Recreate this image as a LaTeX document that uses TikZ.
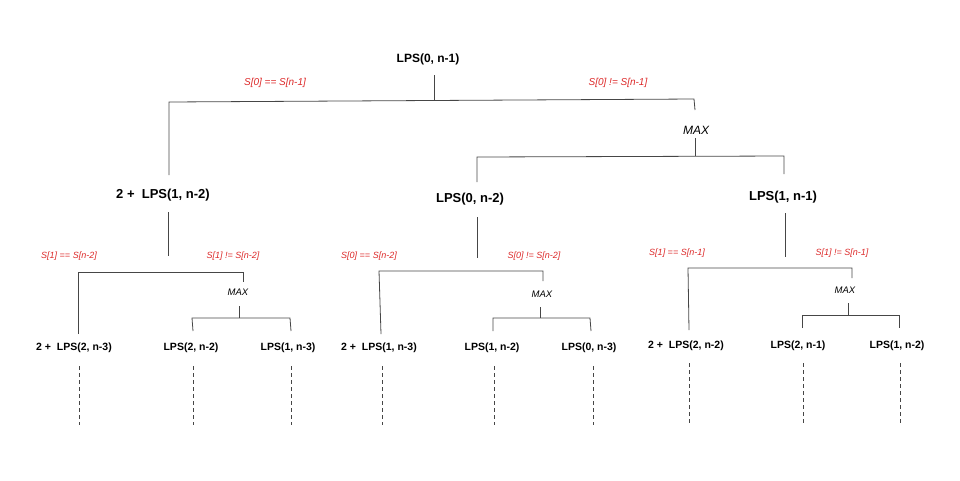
\documentclass[tikz,border=0pt]{standalone}
\usepackage{fontspec}
\setmainfont{Liberation Sans}
\definecolor{lblred}{RGB}{220,40,40}
\definecolor{linegray}{RGB}{70,70,70}
\begin{document}
\begin{tikzpicture}[x=1pt,y=-1pt,
  conn/.style={draw=linegray,line width=0.8pt},
  dashconn/.style={draw=linegray,line width=0.7pt,dash pattern=on 4pt off 3pt},
  nzero/.style={font=\fontsize{12}{14}\selectfont\bfseries,inner sep=0pt},
  none/.style={font=\fontsize{13}{15}\selectfont\bfseries,inner sep=0pt},
  ntwo/.style={font=\fontsize{10.5}{12}\selectfont\bfseries,inner sep=0pt},
  condA/.style={font=\fontsize{10}{12}\selectfont\itshape,text=lblred,inner sep=0pt},
  condB/.style={font=\fontsize{9}{11}\selectfont\itshape,text=lblred,inner sep=0pt},
  maxA/.style={font=\fontsize{12}{14}\selectfont\itshape,inner sep=0pt},
  maxB/.style={font=\fontsize{9.5}{11}\selectfont\itshape,inner sep=0pt}]
\useasboundingbox (0,0) rectangle (960,480);

% ---------- level 0 ----------
\node[nzero] (root) at (428,59) {LPS(0, n-1)};
\coordinate (r1) at (434,75);
\coordinate (r2) at (434,101);
\coordinate (hL) at (169,102);
\coordinate (hR) at (694,99);
\coordinate (aTop) at (169,175);
\coordinate (mTop) at (695,110);
\node[maxA] (max0) at (696,130) {MAX};
\coordinate (m1) at (695,138);
\coordinate (m2) at (695,156);
\coordinate (h2L) at (477,157);
\coordinate (h2R) at (784,156);
\coordinate (bTop) at (477,182);
\coordinate (cTop) at (784,174);
\node[condA] (c0a) at (275,83) {S[0] == S[n-1]};
\node[condA] (c0b) at (618,83) {S[0] != S[n-1]};

\draw[conn] (r1) -- (r2);
\draw[conn] (aTop) -- (hL) -- (hR) -- (mTop);
\draw[conn] (m1) -- (m2);
\draw[conn] (bTop) -- (h2L) -- (h2R) -- (cTop);

% ---------- level 1 ----------
\node[none] (A) at (163,195) {2 +\ \ LPS(1, n-2)};
\node[none] (B) at (470,199) {LPS(0, n-2)};
\node[none] (C) at (783,197) {LPS(1, n-1)};

% ---------- subtree A ----------
\coordinate (A1) at (168,212);
\coordinate (A2) at (168,256);
\coordinate (AhL) at (78,272);
\coordinate (AhR) at (243,272);
\coordinate (AL) at (78,334);
\coordinate (AR) at (243,282);
\node[maxB] (Amax) at (238,292) {MAX};
\coordinate (Am1) at (239,306);
\coordinate (Am2) at (239,318);
\coordinate (Ah2L) at (192,318);
\coordinate (Ah2R) at (290,318);
\coordinate (AxL) at (193,331);
\coordinate (AxR) at (291,331);
\node[condB] (Aca) at (69,256) {S[1] == S[n-2]};
\node[condB] (Acb) at (233,256) {S[1] != S[n-2]};
\draw[conn] (A1) -- (A2);
\draw[conn] (AL) -- (AhL) -- (AhR) -- (AR);
\draw[conn] (Am1) -- (Am2);
\draw[conn] (AxL) -- (Ah2L) -- (Ah2R) -- (AxR);
\node[ntwo] (A21) at (74,348) {2 +\ \ LPS(2, n-3)};
\node[ntwo] (A22) at (191,348) {LPS(2, n-2)};
\node[ntwo] (A23) at (288,348) {LPS(1, n-3)};
\coordinate (Ad1a) at (79,366); \coordinate (Ad1b) at (79,425);
\coordinate (Ad2a) at (193,366); \coordinate (Ad2b) at (193,425);
\coordinate (Ad3a) at (291,366); \coordinate (Ad3b) at (291,425);
\draw[dashconn] (Ad1a) -- (Ad1b);
\draw[dashconn] (Ad2a) -- (Ad2b);
\draw[dashconn] (Ad3a) -- (Ad3b);

% ---------- subtree B ----------
\coordinate (B1) at (477,217);
\coordinate (B2) at (477,258);
\coordinate (BhL) at (379,271);
\coordinate (BhR) at (543,271);
\coordinate (BL) at (381,334);
\coordinate (BR) at (543,281);
\node[maxB] (Bmax) at (542,294) {MAX};
\coordinate (Bm1) at (540,307);
\coordinate (Bm2) at (540,318);
\coordinate (Bh2L) at (493,318);
\coordinate (Bh2R) at (590,318);
\coordinate (BxL) at (493,331);
\coordinate (BxR) at (591,331);
\node[condB] (Bca) at (369,256) {S[0] == S[n-2]};
\node[condB] (Bcb) at (534,256) {S[0] != S[n-2]};
\draw[conn] (B1) -- (B2);
\draw[conn] (BL) -- (BhL) -- (BhR) -- (BR);
\draw[conn] (Bm1) -- (Bm2);
\draw[conn] (BxL) -- (Bh2L) -- (Bh2R) -- (BxR);
\node[ntwo] (B21) at (379,348) {2 +\ \ LPS(1, n-3)};
\node[ntwo] (B22) at (492,348) {LPS(1, n-2)};
\node[ntwo] (B23) at (589,348) {LPS(0, n-3)};
\coordinate (Bd1a) at (382,366); \coordinate (Bd1b) at (382,425);
\coordinate (Bd2a) at (494,366); \coordinate (Bd2b) at (494,425);
\coordinate (Bd3a) at (593,366); \coordinate (Bd3b) at (593,425);
\draw[dashconn] (Bd1a) -- (Bd1b);
\draw[dashconn] (Bd2a) -- (Bd2b);
\draw[dashconn] (Bd3a) -- (Bd3b);

% ---------- subtree C ----------
\coordinate (C1) at (785,213);
\coordinate (C2) at (785,257);
\coordinate (ChL) at (688,268);
\coordinate (ChR) at (852,268);
\coordinate (CL) at (689,330);
\coordinate (CR) at (852,278);
\node[maxB] (Cmax) at (845,290) {MAX};
\coordinate (Cm1) at (848,303);
\coordinate (Cm2) at (848,315);
\coordinate (Ch2L) at (802,315);
\coordinate (Ch2R) at (899,315);
\coordinate (CxL) at (802,328);
\coordinate (CxR) at (899,328);
\node[condB] (Cca) at (677,253) {S[1] == S[n-1]};
\node[condB] (Ccb) at (842,253) {S[1] != S[n-1]};
\draw[conn] (C1) -- (C2);
\draw[conn] (CL) -- (ChL) -- (ChR) -- (CR);
\draw[conn] (Cm1) -- (Cm2);
\draw[conn] (CxL) -- (Ch2L) -- (Ch2R) -- (CxR);
\node[ntwo] (C21) at (686,346) {2 +\ \ LPS(2, n-2)};
\node[ntwo] (C22) at (798,346) {LPS(2, n-1)};
\node[ntwo] (C23) at (897,346) {LPS(1, n-2)};
\coordinate (Cd1a) at (689,363); \coordinate (Cd1b) at (689,423);
\coordinate (Cd2a) at (803,363); \coordinate (Cd2b) at (803,423);
\coordinate (Cd3a) at (900,363); \coordinate (Cd3b) at (900,423);
\draw[dashconn] (Cd1a) -- (Cd1b);
\draw[dashconn] (Cd2a) -- (Cd2b);
\draw[dashconn] (Cd3a) -- (Cd3b);
\end{tikzpicture}
\end{document}
